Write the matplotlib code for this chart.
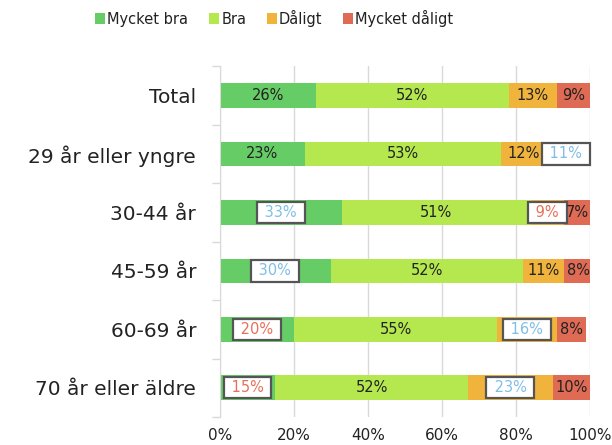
import matplotlib
matplotlib.use("Agg")
import matplotlib.pyplot as plt
import numpy as np

plt.rcParams['font.family'] = ['DejaVu Sans']

categories = ["Total", "29 år eller yngre", "30-44 år", "45-59 år", "60-69 år", "70 år eller äldre"]
series_names = ["Mycket bra", "Bra", "Dåligt", "Mycket dåligt"]
mycket_bra = [26, 23, 33, 30, 20, 15]
bra = [52, 53, 51, 52, 55, 52]
daligt = [13, 12, 9, 11, 16, 23]
mycket_daligt = [9, 11, 7, 8, 8, 10]
# Highlighted labels: (category index, series index, 'hi' or 'lo')
highlights = [(1, 3, 'hi'), (2, 0, 'hi'), (2, 2, 'lo'), (3, 0, 'hi'),
              (4, 0, 'lo'), (4, 2, 'hi'), (5, 0, 'lo'), (5, 2, 'hi')]
xticks = [0, 20, 40, 60, 80, 100]

colors = ["#66CC66", "#B5E84E", "#F0B43C", "#E06B55"]
hi_color = "#7FBFE6"
lo_color = "#E8705A"
text_color = "#222222"

data = np.array([mycket_bra, bra, daligt, mycket_daligt], dtype=float)

fig = plt.figure(figsize=(6.12, 4.45), dpi=100)
ax = fig.add_axes([0.359, 0.063, 0.605, 0.788])

y = np.arange(len(categories))
left = np.zeros(len(categories))
hl = {(c, s): k for c, s, k in highlights}
for s, name in enumerate(series_names):
    vals = data[s]
    ax.barh(y, vals, left=left, height=0.42, color=colors[s], label=name, zorder=2)
    for c in range(len(categories)):
        cx = left[c] + vals[c] / 2
        key = (c, s)
        if key in hl:
            col = hi_color if hl[key] == 'hi' else lo_color
            ax.text(cx, y[c], f" {vals[c]:.0f}% ", ha='center', va='center',
                    fontsize=10.5, color=col, zorder=4,
                    bbox=dict(boxstyle='square,pad=0.22', fc='white',
                              ec='#555555', lw=1.6))
        else:
            ax.text(cx, y[c], f"{vals[c]:.0f}%", ha='center', va='center',
                    fontsize=10.5, color=text_color, zorder=4)
    left += vals

ax.set_xlim(0, 100)
ax.set_ylim(len(categories) - 0.5, -0.5)
ax.set_xticks(xticks)
ax.set_xticklabels([f"{t}%" for t in xticks], fontsize=11, color=text_color)
ax.set_yticks(y)
ax.set_yticklabels(categories, fontsize=14.5, color=text_color)
ax.set_yticks(np.arange(len(categories) + 1) - 0.5, minor=True)
ax.tick_params(axis='y', which='major', length=0, pad=17)
ax.tick_params(axis='y', which='minor', length=6, color='#D9D9D9', width=1)
ax.tick_params(axis='x', length=0, pad=8)
ax.grid(axis='x', color='#D9D9D9', lw=1, zorder=0)
for sp in ['top', 'right', 'bottom']:
    ax.spines[sp].set_visible(False)
ax.spines['left'].set_color('#D9D9D9')

fig.legend(loc='upper center', bbox_to_anchor=(0.448, 1.008), ncol=4, frameon=False,
           fontsize=10.5, handlelength=0.7, handleheight=0.7, handletextpad=0.15,
           columnspacing=1.4, labelcolor=text_color)

fig.savefig("out.png", dpi=100)
